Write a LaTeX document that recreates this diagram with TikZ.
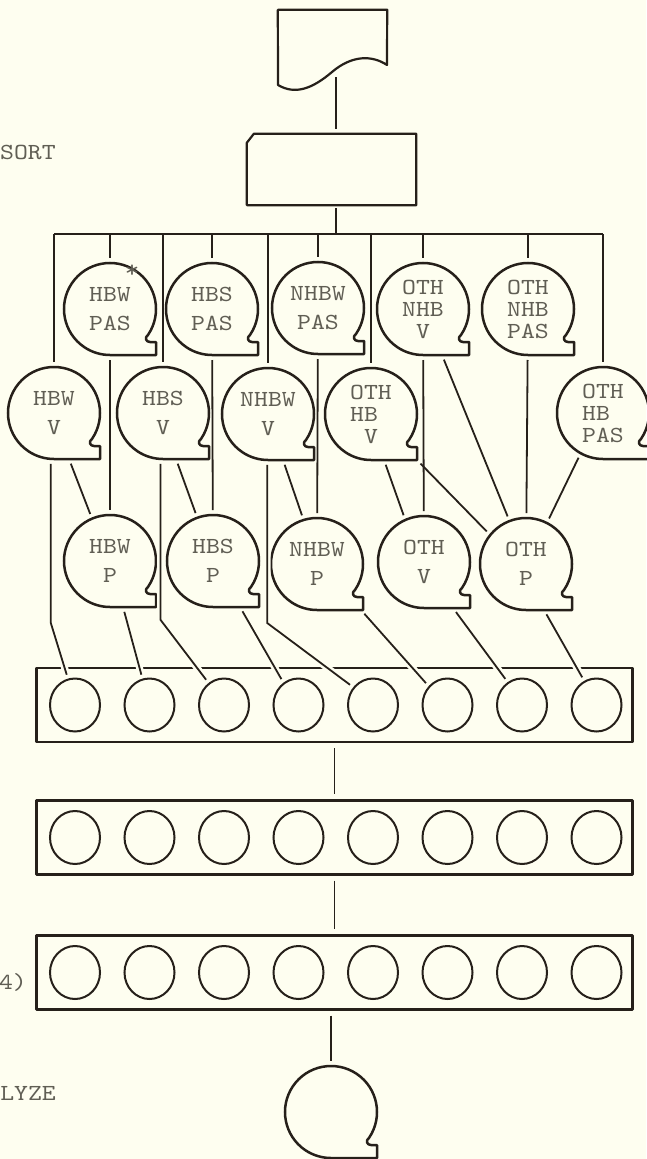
\documentclass[tikz,border=0pt]{standalone}
\usepackage{fontspec}
\setmonofont{lmmono10-regular.otf}[FakeStretch=1.15]
\usetikzlibrary{shapes.geometric}
\definecolor{paper}{RGB}{254,254,240}
\definecolor{ink}{RGB}{38,32,26}
\definecolor{typed}{RGB}{96,94,84}

\begin{document}
\begin{tikzpicture}[x=1pt,y=1pt]
\tikzset{
  wire/.style={draw=ink, line width=1.8pt},
  link/.style={wire, shorten <=5pt, shorten >=5pt},
  drop/.style={wire, shorten >=5pt},
  into/.style={wire, shorten <=5pt, shorten >=4pt,
    preaction={draw=paper, line width=7pt, shorten <=8pt, shorten >=8pt}},
  outline/.style={draw=ink, line width=2.2pt, line join=round},
  tape/.style={circle, minimum size=92pt, inner sep=0pt, outer sep=0pt,
    align=center, text=typed, font={\ttfamily\fontsize{23}{29}\selectfont},
    append after command={\pgfextra{
      \draw[outline, line width=2.5pt] (\tikzlastnode.-34)
        arc[start angle=-34, end angle=270, radius=46pt]
        -- ++(46pt,0) -- ++(0,13pt) -- ++(-6pt,0)
        .. controls +(-4pt,0) and +(-4pt,-3pt) .. (\tikzlastnode.-34);}}},
  three/.style={font={\ttfamily\fontsize{23}{22}\selectfont}},
  tray/.style={rectangle, outline, minimum width=596pt, minimum height=74pt, inner sep=0pt},
  slot/.style={ellipse, draw=ink, line width=2pt, minimum width=50pt, minimum height=53pt, inner sep=0pt},
  note/.style={text=typed, font={\ttfamily\fontsize{23}{26}\selectfont}, inner sep=0pt}
}
\fill[paper] (0,0) rectangle (646,-1159);
\useasboundingbox (0,0) rectangle (646,-1159);

% input and sort
\node[minimum width=109pt, minimum height=62pt, inner sep=0pt] (doc) at (332.5,-41) {};
\draw[outline] (doc.north west) -- (doc.north east) -- (387,-65)
  .. controls (372,-55) and (352,-55) .. (332,-72)
  .. controls (312,-89) and (295,-95) .. (278,-85) -- cycle;
\node[minimum width=169pt, minimum height=71pt, inner sep=0pt] (sort) at (331.5,-169.5) {};
\draw[outline] ([yshift=-9pt]sort.north west) -- ([xshift=7pt]sort.north west)
  -- (sort.north east) -- (sort.south east) -- (sort.south west) -- cycle;
\coordinate (bus) at (336,-234);
\node[note, anchor=base west] (lblsort) at (0,-159) {SORT};

% tapes
\node[tape] (hbwpas) at (110,-309) {HBW\\PAS};
\node[tape] (hbspas) at (212,-309) {HBS\\PAS};
\node[tape] (nhbwpas) at (318,-308) {NHBW\\PAS};
\node[tape,three] (othnhbv) at (423,-309) {OTH\\NHB\\V};
\node[tape,three] (othnhbpas) at (528,-309) {OTH\\NHB\\PAS};
\node[tape] (hbwv) at (54,-413) {HBW\\V};
\node[tape] (hbsv) at (163,-413) {HBS\\V};
\node[tape] (nhbwv) at (268,-414) {NHBW\\V};
\node[tape,three,align=left] (othhbv) at (371,-414) {OTH\\HB\\~V};
\node[tape,three,align=left] (othhbpas) at (603,-413) {OTH\\HB\\PAS};
\node[tape] (hbwp) at (110,-561) {HBW\\P};
\node[tape] (hbsp) at (213,-561) {HBS\\P};
\node[tape] (nhbwp) at (317,-564) {NHBW\\P};
\node[tape] (othv) at (424,-562) {OTH\\V};
\node[tape] (othp) at (526,-564) {OTH\\P};
\node[note, anchor=north, font={\ttfamily\fontsize{24}{24}\selectfont}] (star) at (132,-265) {*};

% trays
\node[tray] (box1) at (334.5,-705) {};
\node[tray] (box2) at (334.5,-837.5) {};
\node[tray] (box3) at (334.5,-972.5) {};
\node[slot] (a1) at (75,-705) {};
\node[slot] (a2) at (149.5,-705) {};
\node[slot] (a3) at (224,-705) {};
\node[slot] (a4) at (298.5,-705) {};
\node[slot] (a5) at (373,-705) {};
\node[slot] (a6) at (447.5,-705) {};
\node[slot] (a7) at (522,-705) {};
\node[slot] (a8) at (596.5,-705) {};
\node[slot] (b1) at (75,-837.5) {};
\node[slot] (b2) at (149.5,-837.5) {};
\node[slot] (b3) at (224,-837.5) {};
\node[slot] (b4) at (298.5,-837.5) {};
\node[slot] (b5) at (373,-837.5) {};
\node[slot] (b6) at (447.5,-837.5) {};
\node[slot] (b7) at (522,-837.5) {};
\node[slot] (b8) at (596.5,-837.5) {};
\node[slot] (c1) at (75,-972.5) {};
\node[slot] (c2) at (149.5,-972.5) {};
\node[slot] (c3) at (224,-972.5) {};
\node[slot] (c4) at (298.5,-972.5) {};
\node[slot] (c5) at (373,-972.5) {};
\node[slot] (c6) at (447.5,-972.5) {};
\node[slot] (c7) at (522,-972.5) {};
\node[slot] (c8) at (596.5,-972.5) {};
\node[tape] (result) at (331,-1112) {};
\node[note, anchor=base east] (lblfour) at (27,-989) {4)};
\node[note, anchor=base east] (lblanalyze) at (56,-1100) {LYZE};

% connections
\draw[link] (doc.south -| bus) -- (sort.north -| bus);
\draw[wire] ([yshift=-3pt]sort.south -| bus) -- (bus);
\draw[wire] (hbwv |- bus) -- (othhbpas |- bus);
\draw[drop] (hbwv |- bus) -- (hbwv);
\draw[drop] (hbwpas |- bus) -- (hbwpas);
\draw[drop] (hbsv |- bus) -- (hbsv);
\draw[drop] (hbspas |- bus) -- (hbspas);
\draw[drop] (nhbwv |- bus) -- (nhbwv);
\draw[drop] (nhbwpas |- bus) -- (nhbwpas);
\draw[drop] (othhbv |- bus) -- (othhbv);
\draw[drop] (othnhbv |- bus) -- (othnhbv);
\draw[drop] (othnhbpas |- bus) -- (othnhbpas);
\draw[drop] (othhbpas |- bus) -- (othhbpas);

\draw[link] (hbwpas) -- (hbwp);
\draw[link] ([xshift=15pt]hbwv.south) -- (hbwp.113);
\draw[link] (hbspas) -- (hbsp);
\draw[link] ([xshift=13pt]hbsv.south) -- (hbsp.110);
\draw[link] (nhbwpas) -- (nhbwp);
\draw[link] ([xshift=15pt]nhbwv.south) -- (nhbwp.107);
\draw[link] (othnhbv) -- (othv);
\draw[link] ([xshift=19pt]othnhbv.south) -- (othp.111);
\draw[link] ([xshift=13pt]othhbv.south) -- (othv.114);
\draw[link] ([xshift=46pt]othhbv.south) -- (othp.141);
\draw[link] (othnhbpas) -- (othp);
\draw[link] (othhbpas.-119) -- (othp.63);

\draw[into] (hbwv.-94) -- ++(0,-164) -- (a1.105);
\draw[into] ([xshift=13pt]hbwp.south) -- (a2.105);
\draw[into] (hbsv.-93) -- ++(0,-161) -- (a3.125);
\draw[into] ([xshift=27pt]hbsp.south) -- (a4.124);
\draw[into] (nhbwv.-91) -- ++(0,-163) -- (a5.138);
\draw[into] ([xshift=44pt]nhbwp.south) -- (a6.135);
\draw[into] ([xshift=29pt]othv.south) -- (a7.122);
\draw[into] ([xshift=18pt]othp.south) -- (a8.117);

\draw[link] (box1) -- (box2);
\draw[link] (box2) -- (box3);
\draw[link] (box3.south -| result) -- (result);
\end{tikzpicture}
\end{document}
